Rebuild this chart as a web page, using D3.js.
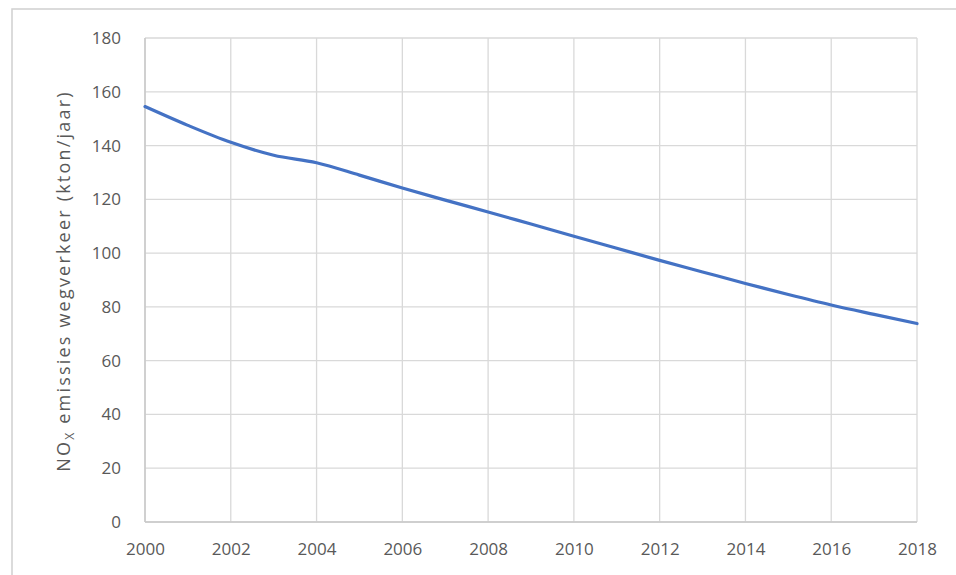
<!DOCTYPE html>
<html><head><meta charset="utf-8">
<script src="https://cdn.jsdelivr.net/npm/d3@7"></script>
<style>body{margin:0;background:#fff}svg{display:block}</style>
</head><body>
<svg id="c" width="956" height="575"></svg>
<script>
const years = [2000,2001,2002,2003,2004,2005,2006,2007,2008,2009,2010,2011,2012,2013,2014,2015,2016,2017,2018];
const noxValues = [154.5,147.5,141.2,136.4,133.6,129.0,124.2,119.7,115.3,110.8,106.3,101.8,97.3,93.0,88.7,84.6,80.7,77.2,73.8];
const xTicks = [2000,2002,2004,2006,2008,2010,2012,2014,2016,2018];
const yTicks = [0,20,40,60,80,100,120,140,160,180];

const svg = d3.select("#c");
const font = "Open Sans, Noto Sans, sans-serif";
const m = {l:145, r:917, t:38, b:522};
const x = d3.scaleLinear().domain([2000,2018]).range([m.l, m.r]);
const y = d3.scaleLinear().domain([0,180]).range([m.b, m.t]);

// outer frame
svg.append("rect").attr("x",12).attr("y",9).attr("width",960).attr("height",580)
  .attr("fill","none").attr("stroke","#d0d0d0").attr("stroke-width",1.5);

// grid
const g = svg.append("g");
g.selectAll("line.h").data(yTicks).join("line")
  .attr("x1",m.l).attr("x2",m.r).attr("y1",d=>y(d)).attr("y2",d=>y(d))
  .attr("stroke","#d9d9d9").attr("stroke-width",1.3);
g.selectAll("line.v").data(xTicks).join("line")
  .attr("y1",m.t).attr("y2",m.b).attr("x1",d=>x(d)).attr("x2",d=>x(d))
  .attr("stroke","#d9d9d9").attr("stroke-width",1.3);
// axis lines
svg.append("line").attr("x1",m.l).attr("x2",m.r).attr("y1",m.b).attr("y2",m.b).attr("stroke","#c8c8c8").attr("stroke-width",1.5);
svg.append("line").attr("x1",m.l).attr("x2",m.l).attr("y1",m.t).attr("y2",m.b).attr("stroke","#c8c8c8").attr("stroke-width",1.5);

// axes labels
const yAxis = d3.axisLeft(y).tickValues(yTicks).tickSize(0).tickPadding(24);
const ya = svg.append("g").attr("transform",`translate(${m.l},0)`).call(yAxis);
ya.select(".domain").remove();
ya.selectAll("text").attr("font-family",font).attr("font-size",17).attr("fill","#595959");

const xAxis = d3.axisBottom(x).tickValues(xTicks).tickFormat(d3.format("d")).tickSize(0).tickPadding(21);
const xa = svg.append("g").attr("transform",`translate(0,${m.b})`).call(xAxis);
xa.select(".domain").remove();
xa.selectAll("text").attr("font-family",font).attr("font-size",17).attr("fill","#595959");

// line
const line = d3.line().x((d,i)=>x(years[i])).y(d=>y(d)).curve(d3.curveMonotoneX);
svg.append("path").datum(noxValues).attr("d",line).attr("fill","none")
  .attr("stroke","#4472C4").attr("stroke-width",3.2).attr("stroke-linecap","round");

// y title
const t = svg.append("text").attr("transform","translate(70,281) rotate(-90)")
  .attr("text-anchor","middle").attr("font-family",font).attr("font-size",18)
  .attr("letter-spacing",2.2).attr("fill","#595959");
t.append("tspan").text("NO");
t.append("tspan").text("X").attr("font-size",12).attr("dy",4);
t.append("tspan").text(" emissies wegverkeer (kton/jaar)").attr("dy",-4);
</script>
</body></html>
